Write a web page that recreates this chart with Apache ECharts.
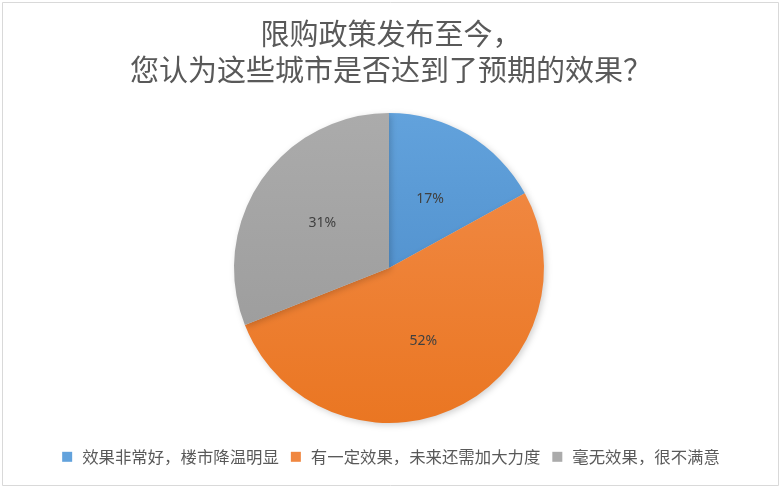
<!DOCTYPE html>
<html>
<head>
<meta charset="utf-8">
<script src="https://cdn.jsdelivr.net/npm/echarts@6/dist/echarts.min.js"></script>
<style>
html, body { margin: 0; padding: 0; background: #fff; }
#chart { width: 782px; height: 489px; }
</style>
</head>
<body>
<div id="chart"></div>
<script>
var titleText = '限购政策发布至今，\n您认为这些城市是否达到了预期的效果？';
var categories = ['效果非常好，楼市降温明显', '有一定效果，未来还需加大力度', '毫无效果，很不满意'];
var values = [17, 52, 31];
var colors = [
    ['#62A2DC', '#5494D0'],
    ['#F08740', '#EA7622'],
    ['#ABABAB', '#9E9E9E']
];

var pieData = [];
for (var i = 0; i < categories.length; i++) {
    pieData.push({
        name: categories[i],
        value: values[i],
        itemStyle: {
            color: new echarts.graphic.LinearGradient(0, 0, 0, 1, [
                { offset: 0, color: colors[i][0] },
                { offset: 1, color: colors[i][1] }
            ])
        }
    });
}

var myChart = echarts.init(document.getElementById('chart'));

myChart.setOption({
    backgroundColor: '#fff',
    graphic: [{
        type: 'rect',
        shape: { x: 2.5, y: 2.5, width: 776, height: 483 },
        style: { fill: 'none', stroke: '#D9D9D9', lineWidth: 1 },
        silent: true
    }],
    title: {
        text: titleText,
        left: 'center',
        top: 11,
        textStyle: {
            fontFamily: 'Noto Sans CJK SC',
            fontSize: 29,
            fontWeight: 'normal',
            lineHeight: 36,
            color: '#595959'
        }
    },
    legend: {
        bottom: 19,
        left: 'center',
        icon: 'rect',
        itemWidth: 10,
        itemHeight: 10,
        itemGap: 12,
        textStyle: {
            fontFamily: 'Noto Sans CJK SC',
            fontSize: 16.4,
            color: '#595959',
            padding: [0, 0, 0, 5]
        },
        data: categories.map(function (c, i) {
            return { name: c, itemStyle: { color: colors[i][0] } };
        })
    },
    series: [{
        type: 'pie',
        center: [389, 268],
        radius: 155,
        startAngle: 90,
        clockwise: true,
        silent: true,
        itemStyle: {
            shadowBlur: 6,
            shadowOffsetX: 2,
            shadowOffsetY: 2,
            shadowColor: 'rgba(0,0,0,0.18)'
        },
        label: {
            position: 'inside',
            formatter: function (p) { return p.value + '%'; },
            fontFamily: 'Noto Sans',
            fontSize: 14,
            color: '#404040'
        },
        labelLine: { show: false },
        data: pieData
    }]
});
</script>
</body>
</html>
